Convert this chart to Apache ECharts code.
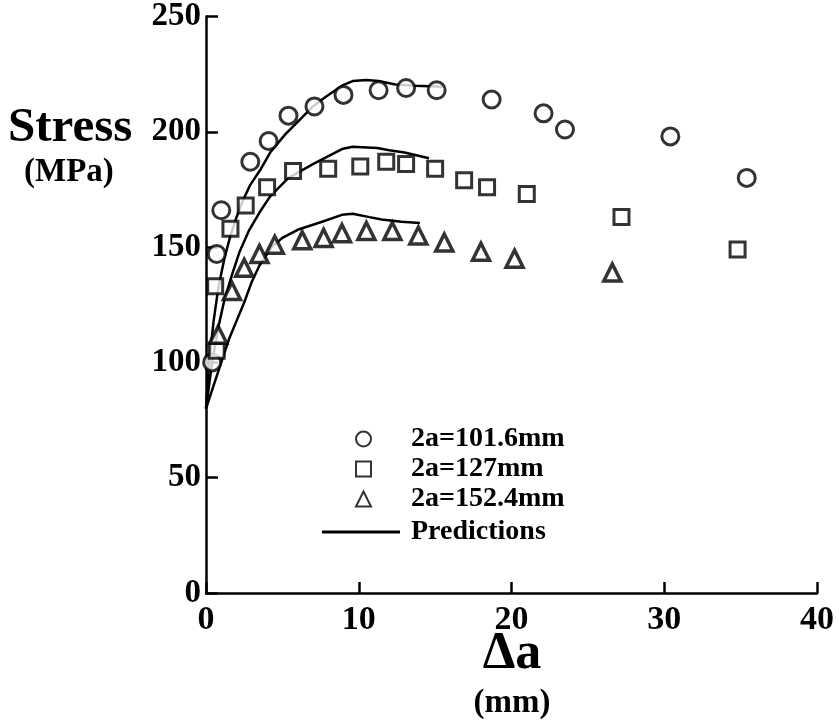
<!DOCTYPE html>
<html>
<head>
<meta charset="utf-8">
<script src="https://cdn.jsdelivr.net/npm/echarts@6/dist/echarts.min.js"></script>
<style>
  html, body { margin: 0; padding: 0; background: #fff; }
  #chart { width: 839px; height: 726px; }
</style>
</head>
<body>
<div id="chart"></div>
<script>
// measured points (Δa in mm, stress in MPa)
var circleX = [0.4, 0.7, 1.0, 2.9, 4.1, 5.4, 7.1, 9.0, 11.3, 13.1, 15.1, 18.7, 22.1, 23.5, 30.4, 35.4]
var circleY = [100, 147, 166, 187, 196, 207, 211, 216, 218, 219, 218, 214, 208, 201, 198, 180]
var squareX = [0.7, 0.6, 1.6, 2.6, 4.0, 5.7, 8.0, 10.1, 11.8, 13.1, 15.0, 16.9, 18.4, 21.0, 27.2, 34.8]
var squareY = [105, 133, 158, 168, 176, 183, 184, 185, 187, 186, 184, 179, 176, 173, 163, 149]
var triX = [0.8, 1.7, 2.5, 3.5, 4.5, 6.3, 7.7, 8.9, 10.5, 12.2, 13.9, 15.6, 18.0, 20.2, 26.6]
var triY = [112, 131, 141, 147, 151, 153, 154, 156, 157, 157, 155, 152, 148, 145, 139]

// prediction curves
var predAX = [0, 0.2, 0.5, 0.8, 1.2, 1.6, 2.0, 2.4, 2.9, 3.6, 4.2, 5.2, 6.1, 7.0, 7.8, 8.9, 9.6, 10.5, 11.3, 12.4, 13.7, 15.5]
var predAY = [80, 100, 118, 132, 145, 155, 163, 170, 177, 184, 191, 199, 205, 211, 215, 220, 222, 222.5, 222, 220.5, 220, 219.5]
var predBX = [0, 0.4, 0.8, 1.2, 1.7, 2.2, 2.8, 3.5, 4.2, 5.4, 7.0, 8.9, 9.6, 11.2, 12.0, 13.0, 14.6]
var predBY = [80, 100, 115, 127, 138, 148, 157, 165, 172, 180, 186, 192.5, 193.5, 193, 192, 191, 188.5]
var predCX = [0, 0.5, 1.0, 1.5, 2.0, 2.5, 3.0, 3.5, 4.3, 5.0, 6.0, 7.6, 8.9, 9.6, 10.7, 11.5, 12.8, 14.0]
var predCY = [80, 90, 100, 110, 118, 126, 135, 142, 150, 154, 157.5, 161, 164, 164.5, 163, 162, 161, 160.5]

var xTicks = [0, 40, 10]   // min, max, interval
var yTicks = [0, 250, 50]

var markNames = ['2a=101.6mm', '2a=127mm', '2a=152.4mm']
var predName = 'Predictions'

function pairs(xs, ys) {
  return xs.map(function (x, i) { return [x, ys[i]] })
}

var font = "'Liberation Serif', 'DejaVu Serif', serif"

function markStyle(w) {
  return { color: '#fff', borderColor: '#000', borderWidth: w }
}

function lineSeries(xs, ys) {
  return {
    name: predName,
    type: 'line',
    data: pairs(xs, ys),
    symbol: 'none',
    smooth: false,
    z: 1,
    lineStyle: { color: '#000', width: 2.5 },
    itemStyle: { color: '#000' }
  }
}

var legendText = { fontFamily: font, fontWeight: 'bold', fontSize: 28, color: '#000' }

var chart = echarts.init(document.getElementById('chart'))
chart.setOption({
  animation: false,
  backgroundColor: '#fff',
  grid: { left: 206, right: 22, top: 15, bottom: 133 },
  legend: [
    {
      data: markNames,
      orient: 'vertical',
      left: 350,
      top: 420,
      itemWidth: 15,
      itemHeight: 15,
      itemGap: 2,
      textStyle: Object.assign({ padding: [0, 0, 0, 35] }, legendText)
    },
    {
      data: [{ name: predName, icon: 'rect' }],
      left: 317,
      top: 513,
      itemWidth: 78,
      itemHeight: 3,
      textStyle: Object.assign({ padding: [0, 0, 0, 6] }, legendText)
    }
  ],
  xAxis: {
    type: 'value',
    min: xTicks[0],
    max: xTicks[1],
    interval: xTicks[2],
    splitLine: { show: false },
    axisLine: { lineStyle: { color: '#000', width: 2.5 } },
    axisTick: { inside: true, length: 11, lineStyle: { color: '#000', width: 2.5 } },
    axisLabel: { fontFamily: font, fontWeight: 'bold', fontSize: 34, color: '#000', margin: 10 }
  },
  yAxis: {
    type: 'value',
    min: yTicks[0],
    max: yTicks[1],
    interval: yTicks[2],
    splitLine: { show: false },
    axisLine: { lineStyle: { color: '#000', width: 2.5 } },
    axisTick: { inside: true, length: 12, lineStyle: { color: '#000', width: 2.5 } },
    axisLabel: { fontFamily: font, fontWeight: 'bold', fontSize: 33, color: '#000', margin: 5 }
  },
  graphic: [
    { type: 'text', x: 8, y: 104, style: { text: 'Stress', font: 'bold 49px ' + font, fill: '#000' } },
    { type: 'text', x: 24, y: 156, style: { text: '(MPa)', font: 'bold 33px ' + font, fill: '#000' } },
    { type: 'text', x: 512, y: 655, style: { text: 'Δa', font: 'bold 52px ' + font, fill: '#000', align: 'center', verticalAlign: 'middle' } },
    { type: 'text', x: 512, y: 703, style: { text: '(mm)', font: 'bold 33px ' + font, fill: '#000', align: 'center', verticalAlign: 'middle' } }
  ],
  series: [
    lineSeries(predAX, predAY),
    lineSeries(predBX, predBY),
    lineSeries(predCX, predCY),
    {
      name: markNames[0],
      type: 'scatter',
      symbol: 'circle',
      symbolSize: 17,
      z: 3,
      itemStyle: markStyle(3),
      data: pairs(circleX, circleY)
    },
    {
      name: markNames[1],
      type: 'scatter',
      symbol: 'rect',
      symbolSize: 15,
      z: 3,
      itemStyle: markStyle(3),
      data: pairs(squareX, squareY)
    },
    {
      name: markNames[2],
      type: 'scatter',
      symbol: 'triangle',
      symbolSize: 17,
      z: 3,
      itemStyle: markStyle(3.5),
      data: pairs(triX, triY)
    }
  ]
})
</script>
</body>
</html>
